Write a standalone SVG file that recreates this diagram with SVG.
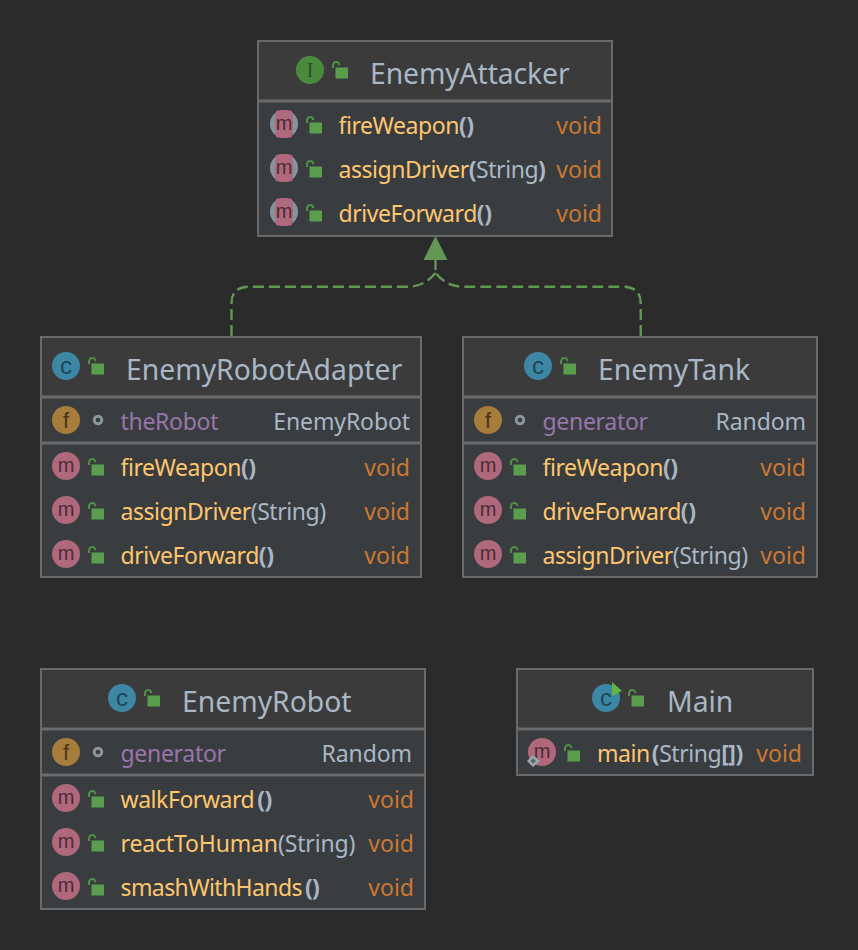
<svg xmlns="http://www.w3.org/2000/svg" width="858" height="950" viewBox="0 0 858 950">
<style>
text{font-family:"Noto Sans","Open Sans","Liberation Sans",sans-serif}
.box{stroke:#6a6a6a;stroke-width:2;fill:#393d40}
.head{fill:#3b3b3b}
.div{stroke:#6a6a6a;stroke-width:3}
.t{font-size:28.300px;fill:#a9b7c6}
.r{font-size:23px;letter-spacing:-0.450px}
.n{fill:#ffc66d}
.p{fill:#a9b7c6}
.pb{fill:#a9b7c6;font-weight:700}
.v{fill:#cc7832;text-anchor:end;letter-spacing:0}
.ty{fill:#a9b7c6;text-anchor:end;letter-spacing:-0.100px}
.f{fill:#9876aa;letter-spacing:-0.300px}
.ic{text-anchor:middle;font-family:"Liberation Sans",sans-serif}
.im{font-size:20px}
.conn{fill:none;stroke:#629755;stroke-width:2.400;stroke-dasharray:11 5}
</style>
<defs>
<g id="lock"><path d="M1 6V3.200A3.200 3.200 0 0 1 7.500 3.200" fill="none" stroke="#4f9146" stroke-width="2"/><rect x="3.500" y="5.500" width="12.500" height="11" fill="#5a9e4d"/></g>
<g id="m"><circle r="14" fill="#b0687c"/><text y="6" class="ic im" fill="#4a2c35">m</text></g>
<g id="am"><circle r="14" fill="#87939a"/><path d="M-8-13Q0-15 8-13Q10 0 8 13Q0 15-8 13Q-10 0-8-13Z" fill="#b0687c"/><text y="6" class="ic im" fill="#4a2c35">m</text></g>
<g id="fi"><circle r="14" fill="#a67d3a"/><text y="8" class="ic" style="font-size:22px" fill="#4a3518">f</text></g>
<g id="c"><circle r="14" fill="#3d87a5"/><text y="7.500" class="ic" style="font-size:24px" fill="#1f4657">c</text></g>
<circle id="pk" r="3.800" fill="none" stroke="#8a959c" stroke-width="3"/>
</defs>
<rect width="858" height="950" fill="#2b2b2b"/>
<g id="connectors">
<path class="conn" d="M231.500 336V303Q231.500 286.700 250 286.700H408Q424 286.700 435.500 273"/>
<path class="conn" d="M640.700 336V303Q640.700 286.700 622 286.700H463Q447 286.700 435.500 273"/>
<path d="M435.500 270V258" fill="none" stroke="#629755" stroke-width="2.400"/>
<path d="M435.500 236L447.500 260H423.500Z" fill="#629755"/>
</g>
<g id="EnemyAttacker">
<rect class="box" x="258" y="41" width="354" height="195"/><rect class="head" x="259" y="42" width="352" height="59"/><path class="div" d="M259 101H611"/>
<circle cx="310" cy="70" r="14" fill="#4a8a3c"/><text x="310" y="77" class="ic" style="font-size:20px;font-family:'Liberation Serif',serif" fill="#2a4a24">I</text>
<use href="#lock" x="332" y="62"/>
<text class="t" x="370" y="84" style="letter-spacing:-0.100px">EnemyAttacker</text>
<use href="#am" x="284" y="124"/><use href="#lock" x="306" y="117"/><text class="r" x="338.500" y="134"><tspan class="n">fireWeapon</tspan><tspan class="pb">()</tspan></text><text class="r v" x="602" y="134">void</text>
<use href="#am" x="284" y="168"/><use href="#lock" x="306" y="161"/><text class="r" x="338.500" y="178"><tspan class="n">assignDriver</tspan><tspan class="pb">(</tspan><tspan class="p">String</tspan><tspan class="pb">)</tspan></text><text class="r v" x="602" y="178">void</text>
<use href="#am" x="284" y="212"/><use href="#lock" x="306" y="205"/><text class="r" x="338.500" y="222"><tspan class="n">driveForward</tspan><tspan class="pb">()</tspan></text><text class="r v" x="602" y="222">void</text>
</g>
<g id="EnemyRobotAdapter">
<rect class="box" x="41" y="337" width="380" height="240"/><rect class="head" x="42" y="338" width="378" height="59"/><path class="div" d="M42 397H420M42 443H420"/>
<use href="#c" x="66" y="366"/><use href="#lock" x="88" y="358"/>
<text class="t" x="126" y="380">EnemyRobotAdapter</text>
<use href="#fi" x="66" y="420"/><use href="#pk" x="98" y="420"/><text class="r f" x="120.500" y="430">theRobot</text><text class="r ty" x="410" y="430">EnemyRobot</text>
<use href="#m" x="66" y="466"/><use href="#lock" x="88" y="459"/><text class="r" x="120.500" y="476"><tspan class="n">fireWeapon</tspan><tspan class="pb">()</tspan></text><text class="r v" x="410" y="476">void</text>
<use href="#m" x="66" y="510"/><use href="#lock" x="88" y="503"/><text class="r" x="120.500" y="520"><tspan class="n">assignDriver</tspan><tspan class="p">(String)</tspan></text><text class="r v" x="410" y="520">void</text>
<use href="#m" x="66" y="554"/><use href="#lock" x="88" y="547"/><text class="r" x="120.500" y="564"><tspan class="n">driveForward</tspan><tspan class="pb">()</tspan></text><text class="r v" x="410" y="564">void</text>
</g>
<g id="EnemyTank">
<rect class="box" x="463" y="337" width="354" height="240"/><rect class="head" x="464" y="338" width="352" height="59"/><path class="div" d="M464 397H816M464 443H816"/>
<use href="#c" x="538" y="366"/><use href="#lock" x="560" y="358"/>
<text class="t" x="598" y="380">EnemyTank</text>
<use href="#fi" x="488" y="420"/><use href="#pk" x="520" y="420"/><text class="r f" x="542.500" y="430">generator</text><text class="r ty" x="806" y="430">Random</text>
<use href="#m" x="488" y="466"/><use href="#lock" x="510" y="459"/><text class="r" x="542.500" y="476"><tspan class="n">fireWeapon</tspan><tspan class="pb">()</tspan></text><text class="r v" x="806" y="476">void</text>
<use href="#m" x="488" y="510"/><use href="#lock" x="510" y="503"/><text class="r" x="542.500" y="520"><tspan class="n">driveForward</tspan><tspan class="pb">()</tspan></text><text class="r v" x="806" y="520">void</text>
<use href="#m" x="488" y="554"/><use href="#lock" x="510" y="547"/><text class="r" x="542.500" y="564"><tspan class="n">assignDriver</tspan><tspan class="p">(String)</tspan></text><text class="r v" x="806" y="564">void</text>
</g>
<g id="EnemyRobot">
<rect class="box" x="41" y="669" width="384" height="240"/><rect class="head" x="42" y="670" width="382" height="59"/><path class="div" d="M42 729H424M42 775H424"/>
<use href="#c" x="122" y="698"/><use href="#lock" x="144" y="690"/>
<text class="t" x="182" y="712">EnemyRobot</text>
<use href="#fi" x="66" y="752"/><use href="#pk" x="98" y="752"/><text class="r f" x="120.500" y="762">generator</text><text class="r ty" x="412" y="762">Random</text>
<use href="#m" x="66" y="798"/><use href="#lock" x="88" y="791"/><text class="r" x="120.500" y="808"><tspan class="n">walkForward</tspan><tspan class="pb" dx="3">()</tspan></text><text class="r v" x="414" y="808">void</text>
<use href="#m" x="66" y="842"/><use href="#lock" x="88" y="835"/><text class="r" x="120.500" y="852" style="letter-spacing:-0.150px"><tspan class="n">reactToHuman</tspan><tspan class="p">(String)</tspan></text><text class="r v" x="414" y="852">void</text>
<use href="#m" x="66" y="886"/><use href="#lock" x="88" y="879"/><text class="r" x="120.500" y="896" style="letter-spacing:-0.600px"><tspan class="n">smashWithHands</tspan><tspan class="pb" dx="3">()</tspan></text><text class="r v" x="414" y="896">void</text>
</g>
<g id="Main">
<rect class="box" x="517" y="669" width="296" height="106"/><rect class="head" x="518" y="670" width="294" height="59"/><path class="div" d="M518 729H812"/>
<use href="#c" x="606" y="698"/><path d="M612 682L622 691L612 696Z" fill="#62b543"/><use href="#lock" x="628" y="690"/>
<text class="t" x="667" y="712">Main</text>
<use href="#m" x="542" y="752"/><path d="M533 755L540 761L533 767L527 761Z" fill="#9aa7b0"/><path d="M533 758.500L536 761L533 763.500L530.500 761Z" fill="#5a6268"/><use href="#lock" x="564" y="745"/>
<text class="r" x="597" y="762"><tspan class="n">main</tspan><tspan class="pb" dx="2">(</tspan><tspan class="p">String</tspan><tspan class="pb">[])</tspan></text><text class="r v" x="802" y="762">void</text>
</g>
</svg>
